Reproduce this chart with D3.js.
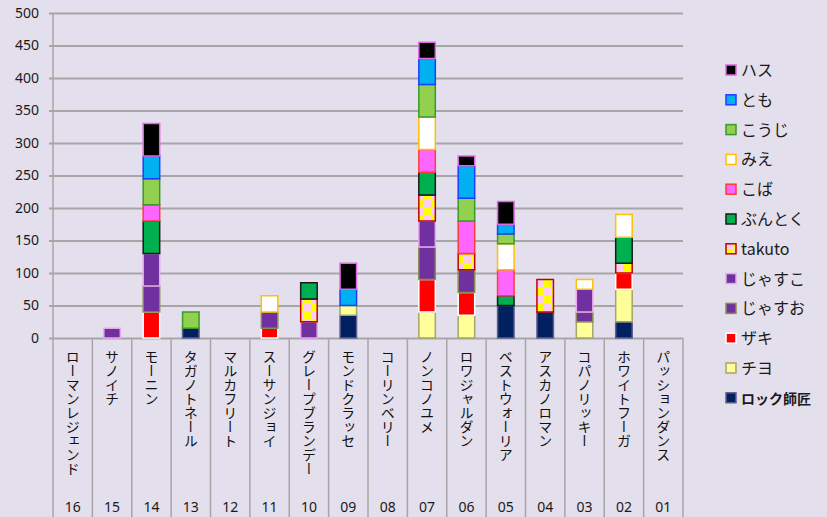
<!DOCTYPE html>
<html>
<head>
  <meta charset="utf-8">
  <title>stacked bars</title>
  <script src="https://d3js.org/d3.v7.min.js"></script>
  <style>
    body, html {
      margin: 0;
      padding: 0;
      background: #e4dfec;
    }
    svg {
      display: block;
      font-family: "Noto Sans CJK JP", "Noto Sans", sans-serif;
    }
    .grid .tick line {
      stroke: #a6a6a6;
      stroke-width: 2;
    }
    .grid .domain {
      display: none;
    }
    .yaxis .domain {
      display: none;
    }
    .yaxis .tick line {
      stroke: #a6a6a6;
      stroke-width: 2;
    }
    .yaxis .tick text {
      font-family: "Noto Sans", sans-serif;
      font-size: 14px;
      fill: #1a1a1a;
    }
    .sep {
      stroke: #a6a6a6;
      stroke-width: 1.5;
    }
  </style>
</head>
<body>
  <div id="chart"></div>
  <script>
    const categories = ["ローマンレジェンド", "サノイチ", "モーニン", "タガノトネール", "マルカフリート",
      "スーサンジョイ", "グレープブランデー", "モンドクラッセ", "コーリンベリー", "ノンコノユメ",
      "ロワジャルダン", "ベストウォーリア", "アスカノロマン", "コパノリッキー", "ホワイトフーガ", "パッションダンス"]
    const categoryNums = ["16", "15", "14", "13", "12", "11", "10", "09", "08", "07", "06", "05", "04", "03", "02", "01"]

    // series, bottom of the stack first
    const seriesNames = ["ロック師匠", "チヨ", "ザキ", "じゃすお", "じゃすこ", "takuto", "ぶんとく", "こば", "みえ", "こうじ", "とも", "ハス"]
    const rock    = [0, 0, 0, 15, 0, 0, 0, 35, 0, 0, 0, 50, 40, 0, 25, 0]
    const chiyo   = [0, 0, 0, 0, 0, 0, 0, 15, 0, 40, 35, 0, 0, 25, 50, 0]
    const zaki    = [0, 0, 40, 0, 0, 15, 0, 0, 0, 50, 35, 0, 0, 0, 25, 0]
    const jasuo   = [0, 0, 40, 0, 0, 25, 0, 0, 0, 50, 35, 0, 0, 15, 0, 0]
    const jasuko  = [0, 15, 50, 0, 0, 0, 25, 0, 0, 40, 0, 0, 0, 35, 0, 0]
    const takuto  = [0, 0, 0, 0, 0, 0, 35, 0, 0, 40, 25, 0, 50, 0, 15, 0]
    const buntoku = [0, 0, 50, 0, 0, 0, 25, 0, 0, 35, 0, 15, 0, 0, 40, 0]
    const koba    = [0, 0, 25, 0, 0, 0, 0, 0, 0, 35, 50, 40, 0, 0, 0, 0]
    const mie     = [0, 0, 0, 0, 0, 25, 0, 0, 0, 50, 0, 40, 0, 15, 35, 0]
    const kouji   = [0, 0, 40, 25, 0, 0, 0, 0, 0, 50, 35, 15, 0, 0, 0, 0]
    const tomo    = [0, 0, 35, 0, 0, 0, 0, 25, 0, 40, 50, 15, 0, 0, 0, 0]
    const hasu    = [0, 0, 50, 0, 0, 0, 0, 40, 0, 25, 15, 35, 0, 0, 0, 0]
    const seriesValues = [rock, chiyo, zaki, jasuo, jasuko, takuto, buntoku, koba, mie, kouji, tomo, hasu]

    const yTicks = [0, 50, 100, 150, 200, 250, 300, 350, 400, 450, 500]

    const fills = ["#002060", "#ffff99", "#ff0000", "#7030a0", "#7030a0", "url(#checker)",
      "#00b050", "#ff66ff", "#ffffff", "#92d050", "#00b0f0", "#000000"]
    const strokes = ["#5f5f8f", "#a5a56a", "#ffffff", "#8c8c52", "#e9a6ee", "#c00000",
      "#1a1a1a", "#ff3b3b", "#ffc000", "#3a9a2a", "#1f3cff", "#e466e4"]

    const W = 827, H = 517
    const plot = { left: 53, right: 683, top: 13, bottom: 338 }

    const svg = d3.select("#chart").append("svg")
      .attr("width", W)
      .attr("height", H)

    // checkered fill for takuto
    const pat = svg.append("defs").append("pattern")
      .attr("id", "checker")
      .attr("patternUnits", "userSpaceOnUse")
      .attr("width", 16)
      .attr("height", 16)
    pat.append("rect").attr("width", 16).attr("height", 16).attr("fill", "#ffccf2")
    pat.append("rect").attr("x", 8).attr("y", 0).attr("width", 8).attr("height", 8).attr("fill", "#ffff00")
    pat.append("rect").attr("x", 0).attr("y", 8).attr("width", 8).attr("height", 8).attr("fill", "#ffff00")

    const yScale = d3.scaleLinear()
      .domain([0, 500])
      .range([plot.bottom, plot.top])

    const xScale = d3.scaleBand()
      .domain(categories)
      .range([plot.left, plot.right])

    //grid
    svg.append("g")
      .attr("class", "grid")
      .attr("transform", `translate(${plot.left},0)`)
      .call(d3.axisLeft(yScale).tickValues(yTicks).tickSize(-(plot.right - plot.left)).tickFormat(""))

    //y axis
    svg.append("g")
      .attr("class", "yaxis")
      .attr("transform", `translate(${plot.left},0)`)
      .call(d3.axisLeft(yScale).tickValues(yTicks).tickSize(4).tickPadding(10))

    //category separators
    const bounds = categories.map((c) => xScale(c)).concat([plot.right])
    svg.selectAll(".sep")
      .data(bounds)
      .enter()
      .append("line")
      .attr("class", "sep")
      .attr("x1", (d) => d)
      .attr("x2", (d) => d)
      .attr("y1", (d, i) => i === 0 ? plot.top : plot.bottom)
      .attr("y2", H)

    //bars
    const rows = categories.map((c, i) => {
      const r = { cat: c }
      seriesNames.forEach((s, k) => { r[s] = seriesValues[k][i] })
      return r
    })
    const stacked = d3.stack().keys(seriesNames)(rows)
    const barW = 16.5

    stacked.forEach((layer, k) => {
      svg.append("g")
        .selectAll("rect")
        .data(layer.filter((d) => d[1] - d[0] > 0))
        .enter()
        .append("rect")
        .attr("x", (d) => xScale(d.data.cat) + xScale.bandwidth() / 2 - barW / 2)
        .attr("y", (d) => yScale(d[1]))
        .attr("width", barW)
        .attr("height", (d) => yScale(d[0]) - yScale(d[1]))
        .attr("fill", fills[k])
        .attr("stroke", strokes[k])
        .attr("stroke-width", 1.5)
    })

    //category labels (vertical)
    svg.selectAll(".catlabel")
      .data(categories)
      .enter()
      .append("text")
      .attr("class", "catlabel")
      .attr("x", (d) => xScale(d) + xScale.bandwidth() / 2)
      .attr("y", 350)
      .style("writing-mode", "vertical-rl")
      .attr("font-size", 14)
      .attr("fill", "#111")
      .text((d) => d)

    svg.selectAll(".catnum")
      .data(categoryNums)
      .enter()
      .append("text")
      .attr("class", "catnum")
      .attr("x", (d, i) => xScale(categories[i]) + xScale.bandwidth() / 2)
      .attr("y", 512)
      .attr("text-anchor", "middle")
      .attr("font-family", "Noto Sans, sans-serif")
      .attr("font-size", 14)
      .attr("fill", "#1a1a1a")
      .text((d) => d)

    //legend, top entry is the last series
    const legendItems = seriesNames.map((s, k) => ({ name: s, k: k })).reverse()
    const legend = svg.append("g")
      .attr("transform", "translate(726,65)")

    legend.selectAll("rect")
      .data(legendItems)
      .enter()
      .append("rect")
      .attr("x", 0)
      .attr("y", (d, i) => i * 29.8)
      .attr("width", 10)
      .attr("height", 10)
      .attr("fill", (d) => fills[d.k])
      .attr("stroke", (d) => strokes[d.k])
      .attr("stroke-width", 1.5)

    legend.selectAll("text")
      .data(legendItems)
      .enter()
      .append("text")
      .attr("x", 15)
      .attr("y", (d, i) => i * 29.8 + 11)
      .attr("font-size", (d) => d.name === "ロック師匠" ? 14 : 16)
      .attr("font-weight", (d) => d.name === "ロック師匠" ? "bold" : "normal")
      .attr("fill", "#1a1a1a")
      .text((d) => d.name)
  </script>
</body>
</html>
